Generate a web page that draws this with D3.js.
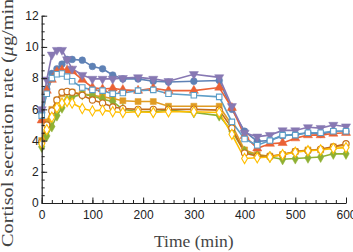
<!DOCTYPE html>
<html lang="en">
<head>
    <meta charset="UTF-8">
    <script src="https://d3js.org/d3.v7.min.js"></script>
    <style>
        body { margin: 0; background: #fff; }
        .tick text { font-family: "Liberation Sans", Arial, sans-serif; font-size: 12px; fill: #222; }
        .title { font-family: "Liberation Serif", "Times New Roman", serif; font-size: 17.5px; fill: #444; }
    </style>
</head>
<body>
<script>
    const width = 353;
    const height = 252;

    // sample times (min)
    const times = [0, 10, 20, 30, 40, 50, 60, 80, 100, 120, 140, 160, 190, 220, 250, 300, 350,
                   375, 400, 425, 450, 475, 500, 525, 550, 575, 600];

    const blue = [5.8, 7.3, 8.3, 8.6, 8.9, 9.2, 9.2, 9.15, 8.75, 8.6, 8.2, 7.95, 7.95, 7.8, 7.75, 7.8, 7.85,
                  6.0, 4.6, 3.95, 4.0, 4.3, 4.4, 4.5, 4.4, 4.6, 4.6];
    const orange = [4.0, 5.2, 6.0, 6.6, 7.0, 7.1, 7.1, 7.0, 6.9, 6.8, 6.7, 6.55, 6.5, 6.5, 6.2, 6.2, 6.2,
                    5.0, 3.4, 3.1, 3.0, 3.1, 3.3, 3.4, 3.4, 3.6, 3.7];
    const green = [3.6, 4.3, 4.9, 5.6, 6.1, 6.6, 6.8, 6.95, 6.87, 6.65, 6.5, 6.0, 5.85, 5.85, 5.95, 5.8, 5.6,
                   4.6, 3.3, 3.05, 2.95, 2.8, 2.85, 2.9, 2.95, 3.15, 3.15];
    const red = [5.3, 7.2, 7.9, 8.4, 8.5, 8.5, 8.45, 7.9, 7.4, 7.3, 7.35, 7.25, 7.2, 7.35, 7.2, 7.2, 7.4,
                 6.1, 4.3, 3.5, 3.8, 3.85, 4.15, 4.35, 4.35, 4.45, 4.5];
    const purple = [6.0, 7.9, 9.5, 9.8, 9.8, 9.2, 8.6, 8.2, 7.95, 7.95, 7.95, 8.0, 8.05, 7.95, 7.8, 8.25, 8.05,
                    6.2, 4.5, 4.25, 4.35, 4.65, 4.65, 4.85, 4.8, 5.0, 4.9];
    const brown = [3.9, 5.0, 5.9, 6.6, 7.1, 7.15, 7.1, 6.9, 6.6, 6.4, 6.15, 6.05, 6.0, 6.0, 6.0, 6.0, 5.95,
                   4.8, 3.2, 3.0, 3.0, 3.1, 3.3, 3.35, 3.45, 3.6, 3.8];
    const lightBlue = [5.6, 7.0, 8.0, 8.25, 8.3, 8.1, 7.8, 7.4, 7.25, 7.2, 7.0, 7.05, 7.2, 7.25, 7.0, 6.9, 6.8,
                       5.2, 4.1, 3.7, 4.0, 4.35, 4.35, 4.5, 4.5, 4.6, 4.6];
    const yellow = [3.8, 4.7, 5.5, 6.1, 6.4, 6.5, 6.4, 6.05, 5.9, 5.95, 5.85, 5.8, 5.85, 5.8, 5.85, 5.85, 5.8,
                    4.4, 2.85, 2.9, 2.95, 3.1, 3.25, 3.35, 3.4, 3.5, 3.55];

    const xTicks = [0, 100, 200, 300, 400, 500, 600];
    const yTicks = [0, 2, 4, 6, 8, 10, 12];

    const series = [
        {values: blue, color: '#5E81B5', shape: d3.symbolCircle, open: false, rot: 0},
        {values: orange, color: '#E09C24', shape: d3.symbolSquare, open: false, rot: 0},
        {values: green, color: '#8FB032', shape: d3.symbolDiamond, open: false, rot: 0},
        {values: red, color: '#EB6235', shape: d3.symbolTriangle, open: false, rot: 0},
        {values: purple, color: '#8778B3', shape: d3.symbolTriangle, open: false, rot: 180},
        {values: brown, color: '#C56E1A', shape: d3.symbolCircle, open: true, rot: 0},
        {values: lightBlue, color: '#5D9EC7', shape: d3.symbolSquare, open: true, rot: 0},
        {values: yellow, color: '#FFBF00', shape: d3.symbolDiamond, open: true, rot: 0}
    ];

    const x = d3.scaleLinear().domain([0, 600]).range([41.7, 346]);
    const y = d3.scaleLinear().domain([0, 12]).range([203, 15.7]);

    const svg = d3.select('body').append('svg')
        .attr('width', width)
        .attr('height', height);

    const line = d3.line()
        .x((d, i) => x(times[i]))
        .y(d => y(d));

    const plot = svg.append('g');

    series.forEach(s => {
        plot.append('path')
            .datum(s.values)
            .attr('fill', 'none')
            .attr('stroke', s.color)
            .attr('stroke-width', 1.6)
            .attr('d', line);
    });

    series.forEach(s => {
        plot.selectAll(null)
            .data(s.values)
            .enter().append('path')
            .attr('d', d3.symbol().type(s.shape).size(s.open ? 30 : 36))
            .attr('transform', (d, i) => `translate(${x(times[i])},${y(d)}) rotate(${s.rot})`)
            .attr('fill', s.open ? '#fff' : s.color)
            .attr('stroke', s.color)
            .attr('stroke-width', s.open ? 1.1 : 0.5);
    });

    // axes, ticks pointing inward
    const xMinor = svg.append('g')
        .attr('transform', `translate(0,${y(0)})`)
        .call(d3.axisBottom(x).tickValues(d3.range(0, 601, 20)).tickSize(-3).tickFormat(''));
    xMinor.select('.domain').remove();

    svg.append('g')
        .attr('transform', `translate(0,${y(0)})`)
        .call(d3.axisBottom(x).tickValues(xTicks).tickSize(-5.5).tickPadding(7.5).tickSizeOuter(0));

    const yMinor = svg.append('g')
        .attr('transform', `translate(${x(0)},0)`)
        .call(d3.axisLeft(y).tickValues(d3.range(0, 12.01, 0.5)).tickSize(-3).tickFormat(''));
    yMinor.select('.domain').remove();

    svg.append('g')
        .attr('transform', `translate(${x(0)},0)`)
        .call(d3.axisLeft(y).tickValues(yTicks).tickSize(-5.5).tickPadding(3).tickSizeOuter(0));

    svg.selectAll('.domain').attr('stroke', '#222').attr('stroke-width', 1.2);
    svg.selectAll('.tick line').attr('stroke', '#222');

    svg.append('text')
        .attr('class', 'title')
        .attr('x', (x(0) + x(600)) / 2)
        .attr('y', 246.5)
        .attr('text-anchor', 'middle')
        .text('Time (min)');

    // y title is longer than the frame, so the top end runs off the picture
    const yTitle = svg.append('text')
        .attr('class', 'title')
        .attr('transform', 'translate(12.5,119.5) rotate(-90)')
        .attr('text-anchor', 'middle')
        .attr('textLength', 255)
        .attr('lengthAdjust', 'spacingAndGlyphs');
    yTitle.append('tspan').text('Cortisol secretion rate (');
    yTitle.append('tspan').attr('font-style', 'italic').text('μ');
    yTitle.append('tspan').text('g/min)');
</script>
</body>
</html>
